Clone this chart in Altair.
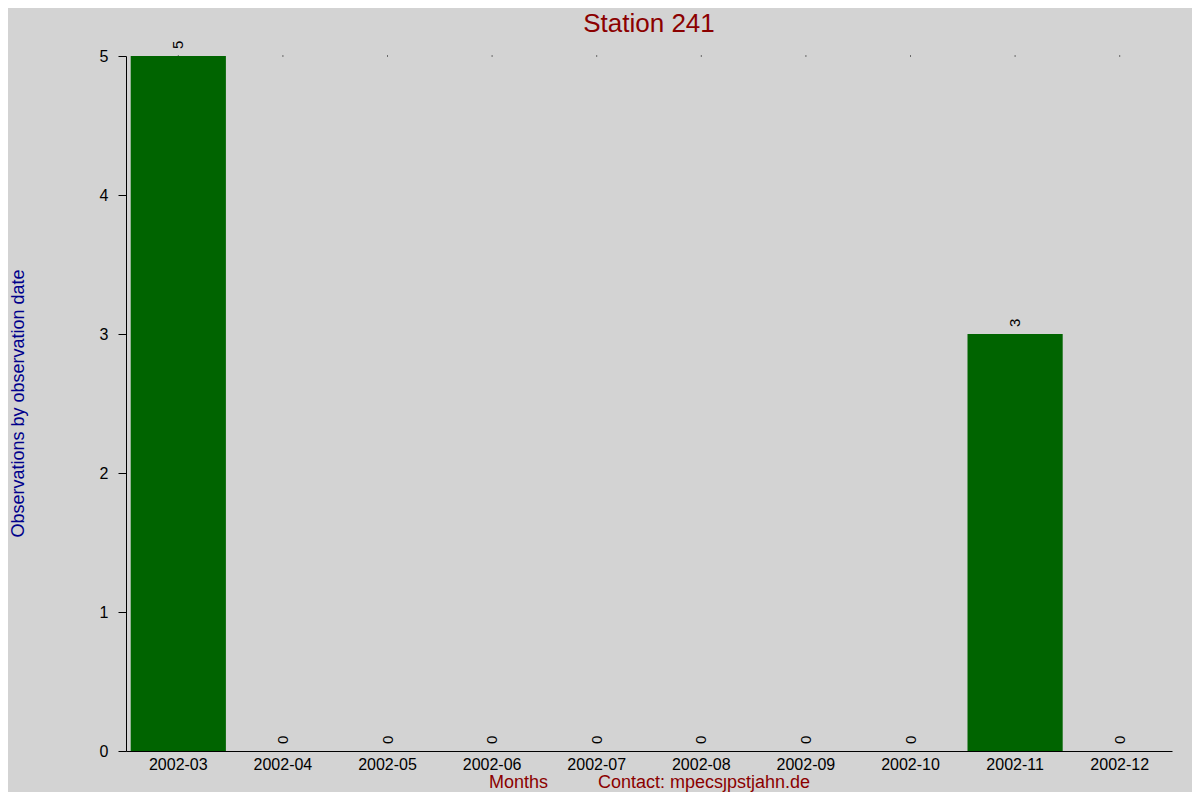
import altair as alt
import pandas as pd

months = ["2002-03", "2002-04", "2002-05", "2002-06", "2002-07",
          "2002-08", "2002-09", "2002-10", "2002-11", "2002-12"]
counts = [5, 0, 0, 0, 0, 0, 0, 0, 3, 0]
y_ticks = [0, 1, 2, 3, 4, 5]
y_max = 5

df = pd.DataFrame({"month": months, "count": counts, "top": [y_max] * len(months)})

FONT = "Liberation Sans"
x_title = "Months" + "\u00a0" * 10 + "Contact: mpecsȷpstjahn.de"

x_enc = alt.X("month:N", sort=months,
              scale=alt.Scale(paddingInner=0.09, paddingOuter=0.045),
              axis=alt.Axis(title=x_title,
                            labelAngle=0, labelAlign="center", labelBaseline="top",
                            labelFontSize=16, labelColor="black",
                            labelFont=FONT, labelPadding=5, ticks=False,
                            domainColor="black", domainWidth=1,
                            titleColor="#8b0000", titleFont=FONT, titleFontSize=18,
                            titleFontWeight="normal", titleX=523, titleY=31,
                            titleBaseline="middle", titleAlign="center"))
y_scale = alt.Scale(domain=[0, y_max], nice=False)

bars = alt.Chart(df).mark_bar(color="#006400").encode(
    x=x_enc,
    y=alt.Y("count:Q", scale=y_scale,
            axis=alt.Axis(values=y_ticks, format="d", grid=False,
                          title="Observations by observation date",
                          labelFontSize=16, labelColor="black", labelFont=FONT,
                          labelPadding=10, tickSize=8, tickColor="black",
                          domainColor="black",
                          titleColor="#00008b", titleFont=FONT, titleFontSize=18,
                          titleFontWeight="normal", titleX=-108, titleY=347,
                          titleAngle=270, titleAlign="center",
                          titleBaseline="middle")),
)

labels = alt.Chart(df).mark_text(angle=270, align="left", baseline="middle",
                                 dx=7, fontSize=15, font=FONT, color="black").encode(
    x=alt.X("month:N", sort=months),
    y=alt.Y("count:Q", scale=y_scale),
    text=alt.Text("count:Q", format="d"),
)

dots = alt.Chart(df).mark_square(size=1, color="black", opacity=1).encode(
    x=alt.X("month:N", sort=months),
    y=alt.Y("top:Q", scale=y_scale),
)

chart = alt.layer(dots, bars, labels).properties(
    width=1046, height=695,
    title=alt.TitleParams("Station 241", color="#8b0000", fontSize=26,
                          font=FONT, fontWeight="normal", anchor="middle",
                          baseline="alphabetic", offset=13, dy=30),
    background="#d3d3d3",
    padding={"left": 118, "top": 48, "right": 20, "bottom": 41},
    autosize=alt.AutoSizeParams(type="none"),
).configure_view(stroke=None)

chart.save("out.html", embed_options={"renderer": "svg", "actions": False})
